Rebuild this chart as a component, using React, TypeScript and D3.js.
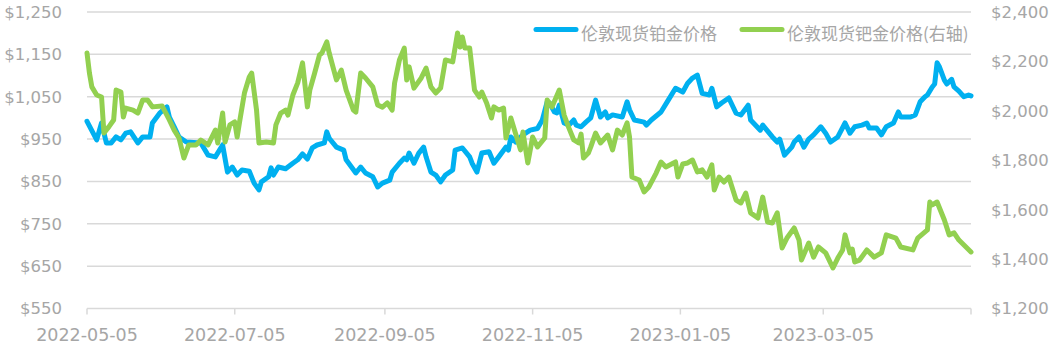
import React from 'react';
import * as d3 from 'd3';

// 伦敦现货铂金价格 (left axis)
const platinumDates = [
  '2022-05-05', '2022-05-09', '2022-05-11', '2022-05-13', '2022-05-15', '2022-05-17', '2022-05-19', '2022-05-21',
  '2022-05-23', '2022-05-26', '2022-05-28', '2022-05-31', '2022-06-01', '2022-06-04', '2022-06-07', '2022-06-08',
  '2022-06-10', '2022-06-12', '2022-06-15', '2022-06-21', '2022-06-24', '2022-06-27', '2022-06-30', '2022-07-02',
  '2022-07-04', '2022-07-06', '2022-07-08', '2022-07-11', '2022-07-13', '2022-07-15', '2022-07-16', '2022-07-19',
  '2022-07-20', '2022-07-21', '2022-07-23', '2022-07-26', '2022-07-29', '2022-07-31', '2022-08-02', '2022-08-04',
  '2022-08-06', '2022-08-08', '2022-08-11', '2022-08-12', '2022-08-13', '2022-08-16', '2022-08-19', '2022-08-20',
  '2022-08-24', '2022-08-26', '2022-08-28', '2022-08-31', '2022-09-02', '2022-09-04', '2022-09-07', '2022-09-08',
  '2022-09-11', '2022-09-13', '2022-09-14', '2022-09-15', '2022-09-17', '2022-09-19', '2022-09-21', '2022-09-22',
  '2022-09-24', '2022-09-26', '2022-09-28', '2022-09-30', '2022-10-03', '2022-10-04', '2022-10-07', '2022-10-10',
  '2022-10-11', '2022-10-13', '2022-10-15', '2022-10-18', '2022-10-20', '2022-10-22', '2022-10-25', '2022-10-26',
  '2022-10-27', '2022-10-29', '2022-11-01', '2022-11-04', '2022-11-07', '2022-11-09', '2022-11-11', '2022-11-12',
  '2022-11-14', '2022-11-15', '2022-11-16', '2022-11-18', '2022-11-20', '2022-11-22', '2022-11-23', '2022-11-25',
  '2022-11-27', '2022-11-29', '2022-12-01', '2022-12-03', '2022-12-05', '2022-12-06', '2022-12-08', '2022-12-12',
  '2022-12-14', '2022-12-15', '2022-12-17', '2022-12-21', '2022-12-22', '2022-12-24', '2022-12-28', '2022-12-31',
  '2023-01-03', '2023-01-06', '2023-01-08', '2023-01-10', '2023-01-12', '2023-01-14', '2023-01-17', '2023-01-18',
  '2023-01-20', '2023-01-22', '2023-01-25', '2023-01-28', '2023-01-30', '2023-02-02', '2023-02-03', '2023-02-07',
  '2023-02-08', '2023-02-12', '2023-02-14', '2023-02-15', '2023-02-17', '2023-02-20', '2023-02-21', '2023-02-23',
  '2023-02-25', '2023-02-27', '2023-03-01', '2023-03-04', '2023-03-06', '2023-03-08', '2023-03-11', '2023-03-14',
  '2023-03-16', '2023-03-18', '2023-03-21', '2023-03-23', '2023-03-24', '2023-03-27', '2023-03-29', '2023-03-31',
  '2023-04-03', '2023-04-05', '2023-04-06', '2023-04-10', '2023-04-12', '2023-04-14', '2023-04-16', '2023-04-17',
  '2023-04-19', '2023-04-20', '2023-04-21', '2023-04-22', '2023-04-24', '2023-04-25', '2023-04-27', '2023-04-28',
  '2023-04-30', '2023-05-02', '2023-05-04', '2023-05-05',
];
const platinumPrices = [
  992, 948, 988, 941, 941, 955, 948, 964, 967, 941, 955, 955, 988, 1011, 1026, 1002,
  979, 955, 943, 941, 912, 908, 936, 872, 884, 865, 877, 874, 846, 830, 849, 861,
  882, 865, 884, 880, 893, 901, 915, 903, 929, 936, 941, 967, 952, 931, 924, 901,
  870, 884, 870, 861, 837, 846, 853, 872, 893, 905, 901, 917, 893, 917, 931, 908,
  872, 865, 849, 865, 877, 924, 929, 908, 893, 872, 917, 920, 893, 908, 931, 924,
  955, 943, 960, 971, 975, 995, 1038, 1035, 1014, 1012, 1030, 988, 983, 995, 983, 979,
  990, 1000, 1042, 1002, 1014, 1000, 1007, 1002, 1038, 1019, 995, 990, 983, 995, 1014, 1042,
  1070, 1061, 1082, 1094, 1101, 1058, 1054, 1070, 1026, 1035, 1047, 1011, 1007, 1030, 995, 971,
  983, 955, 943, 950, 912, 931, 943, 955, 931, 950, 960, 979, 964, 943, 955, 988,
  964, 979, 983, 988, 976, 976, 960, 979, 988, 1014, 1002, 1002, 1007, 1038, 1050, 1054,
  1073, 1080, 1130, 1120, 1089, 1080, 1091, 1073, 1063, 1050, 1054, 1052,
];

// 伦敦现货钯金价格 (right axis)
const palladiumDates = [
  '2022-05-05', '2022-05-06', '2022-05-07', '2022-05-09', '2022-05-11', '2022-05-12', '2022-05-14', '2022-05-16',
  '2022-05-17', '2022-05-19', '2022-05-20', '2022-05-21', '2022-05-24', '2022-05-26', '2022-05-28', '2022-05-30',
  '2022-06-01', '2022-06-05', '2022-06-08', '2022-06-10', '2022-06-12', '2022-06-14', '2022-06-16', '2022-06-19',
  '2022-06-21', '2022-06-24', '2022-06-27', '2022-06-28', '2022-06-30', '2022-07-01', '2022-07-03', '2022-07-05',
  '2022-07-06', '2022-07-07', '2022-07-09', '2022-07-11', '2022-07-12', '2022-07-14', '2022-07-15', '2022-07-18',
  '2022-07-21', '2022-07-22', '2022-07-24', '2022-07-26', '2022-07-27', '2022-07-29', '2022-07-31', '2022-08-02',
  '2022-08-04', '2022-08-05', '2022-08-07', '2022-08-09', '2022-08-10', '2022-08-12', '2022-08-13', '2022-08-16',
  '2022-08-18', '2022-08-20', '2022-08-23', '2022-08-24', '2022-08-26', '2022-08-28', '2022-08-31', '2022-09-02',
  '2022-09-04', '2022-09-06', '2022-09-08', '2022-09-09', '2022-09-11', '2022-09-13', '2022-09-14', '2022-09-15',
  '2022-09-17', '2022-09-20', '2022-09-22', '2022-09-24', '2022-09-26', '2022-09-28', '2022-09-30', '2022-10-03',
  '2022-10-05', '2022-10-06', '2022-10-07', '2022-10-08', '2022-10-10', '2022-10-12', '2022-10-14', '2022-10-15',
  '2022-10-17', '2022-10-19', '2022-10-20', '2022-10-22', '2022-10-24', '2022-10-25', '2022-10-27', '2022-10-31',
  '2022-11-01', '2022-11-03', '2022-11-05', '2022-11-07', '2022-11-10', '2022-11-11', '2022-11-13', '2022-11-16',
  '2022-11-18', '2022-11-20', '2022-11-22', '2022-11-24', '2022-11-25', '2022-11-26', '2022-11-28', '2022-11-29',
  '2022-12-01', '2022-12-03', '2022-12-06', '2022-12-08', '2022-12-10', '2022-12-12', '2022-12-14', '2022-12-15',
  '2022-12-16', '2022-12-19', '2022-12-21', '2022-12-23', '2022-12-26', '2022-12-28', '2022-12-30', '2023-01-03',
  '2023-01-04', '2023-01-06', '2023-01-08', '2023-01-10', '2023-01-12', '2023-01-14', '2023-01-16', '2023-01-18',
  '2023-01-19', '2023-01-21', '2023-01-23', '2023-01-25', '2023-01-28', '2023-01-30', '2023-02-01', '2023-02-03',
  '2023-02-06', '2023-02-08', '2023-02-10', '2023-02-12', '2023-02-14', '2023-02-16', '2023-02-18', '2023-02-21',
  '2023-02-23', '2023-02-24', '2023-02-27', '2023-03-01', '2023-03-03', '2023-03-06', '2023-03-09', '2023-03-11',
  '2023-03-13', '2023-03-14', '2023-03-16', '2023-03-17', '2023-03-18', '2023-03-20', '2023-03-23', '2023-03-26',
  '2023-03-29', '2023-03-31', '2023-04-04', '2023-04-06', '2023-04-11', '2023-04-13', '2023-04-17', '2023-04-18',
  '2023-04-19', '2023-04-21', '2023-04-24', '2023-04-26', '2023-04-28', '2023-04-30', '2023-05-05',
];
const palladiumPrices = [
  2234, 2153, 2097, 2064, 2056, 1910, 1935, 1963, 2084, 2076, 1975, 2011, 2003, 1991, 2044, 2044,
  2016, 2020, 1963, 1922, 1890, 1809, 1862, 1862, 1882, 1862, 1922, 1870, 1991, 1874, 1943, 1955,
  1894, 1955, 2072, 2137, 2153, 2003, 1870, 1874, 1870, 1943, 1991, 2003, 1983, 2064, 2113, 2194,
  2016, 2084, 2153, 2226, 2234, 2279, 2234, 2125, 2165, 2084, 2003, 1995, 2153, 2133, 2097, 2024,
  2015, 2032, 2003, 2113, 2206, 2254, 2125, 2178, 2092, 2133, 2173, 2097, 2072, 2092, 2206, 2198,
  2315, 2258, 2299, 2254, 2254, 2084, 2056, 2076, 2032, 1971, 2016, 2003, 2011, 1890, 1971, 1842,
  1914, 1789, 1894, 1854, 1890, 2044, 2016, 2084, 1983, 1930, 1882, 1870, 1906, 1809, 1829, 1854,
  1910, 1870, 1902, 1842, 1922, 1902, 1951, 1894, 1732, 1720, 1672, 1692, 1748, 1793, 1773, 1793,
  1732, 1785, 1789, 1801, 1753, 1761, 1732, 1781, 1680, 1732, 1712, 1732, 1639, 1627, 1667, 1587,
  1566, 1651, 1550, 1546, 1587, 1445, 1485, 1526, 1477, 1396, 1465, 1408, 1449, 1425, 1364, 1404,
  1437, 1498, 1425, 1440, 1388, 1396, 1437, 1408, 1425, 1498, 1485, 1449, 1437, 1485, 1518, 1631,
  1619, 1631, 1558, 1498, 1506, 1477, 1429,
];

const leftTicks = [550, 650, 750, 850, 950, 1050, 1150, 1250];
const rightTicks = [1200, 1400, 1600, 1800, 2000, 2200, 2400];
const dateTicks = ['2022-05-05', '2022-07-05', '2022-09-05', '2022-11-05', '2023-01-05', '2023-03-05'];
const seriesNames = ['伦敦现货铂金价格', '伦敦现货钯金价格(右轴)'];
const seriesColors = ['#00b0f0', '#92d050'];

const width = 1058;
const height = 352;
const margin = { top: 12, right: 87, bottom: 43.5, left: 87 };
const textColor = '#a6a6a6';
const gridColor = '#d9d9d9';

const parse = d3.timeParse('%Y-%m-%d');

export default function App() {
  const x = d3
    .scaleTime()
    .domain([parse('2022-05-05')!, parse('2023-05-05')!])
    .range([margin.left, width - margin.right]);
  const yLeft = d3.scaleLinear().domain([550, 1250]).range([height - margin.bottom, margin.top]);
  const yRight = d3.scaleLinear().domain([1200, 2400]).range([height - margin.bottom, margin.top]);

  const platinum = platinumDates.map((d, i) => ({ date: parse(d)!, value: platinumPrices[i] }));
  const palladium = palladiumDates.map((d, i) => ({ date: parse(d)!, value: palladiumPrices[i] }));

  const lineLeft = d3
    .line<{ date: Date; value: number }>()
    .x((d) => x(d.date))
    .y((d) => yLeft(d.value));
  const lineRight = d3
    .line<{ date: Date; value: number }>()
    .x((d) => x(d.date))
    .y((d) => yRight(d.value));

  const fmt = d3.format('$,');
  const baseY = height - margin.bottom;
  const axisFont = 'DejaVu Sans, sans-serif';

  return (
    <div style={{ position: 'absolute', left: 0, top: 0 }}>
      <svg width={width} height={height} style={{ display: 'block', background: '#fff' }}>
        {/* grid */}
        {leftTicks.slice(1).map((t) => (
          <line key={t} x1={margin.left} x2={width - margin.right} y1={yLeft(t)} y2={yLeft(t)} stroke={gridColor} strokeWidth={1.5} />
        ))}
        {/* bottom axis */}
        <line x1={margin.left} x2={width - margin.right} y1={baseY} y2={baseY} stroke={gridColor} strokeWidth={1.5} />
        {[...dateTicks.map((d) => x(parse(d)!)), width - margin.right].map((px, i) => (
          <line key={i} x1={px} x2={px} y1={baseY} y2={baseY + 6} stroke={gridColor} strokeWidth={1.5} />
        ))}
        {dateTicks.map((d) => (
          <text key={d} x={x(parse(d)!)} y={341} textAnchor="middle" fill={textColor} fontSize={17.5} fontFamily={axisFont}>
            {d}
          </text>
        ))}
        {/* left axis */}
        {leftTicks.map((t) => (
          <text key={t} x={62} y={yLeft(t)} dy="0.36em" textAnchor="end" fill={textColor} fontSize={16.5} fontFamily={axisFont}>
            {fmt(t)}
          </text>
        ))}
        {/* right axis */}
        {rightTicks.map((t) => (
          <text key={t} x={991} y={yRight(t)} dy="0.36em" textAnchor="start" fill={textColor} fontSize={16.5} fontFamily={axisFont}>
            {fmt(t)}
          </text>
        ))}
        {/* series */}
        <path d={lineLeft(platinum) ?? ''} fill="none" stroke={seriesColors[0]} strokeWidth={5} strokeLinejoin="round" strokeLinecap="round" />
        <path d={lineRight(palladium) ?? ''} fill="none" stroke={seriesColors[1]} strokeWidth={5} strokeLinejoin="round" strokeLinecap="round" />
        {/* legend */}
        {seriesNames.map((name, i) => {
          const lx = i === 0 ? 534 : 740;
          return (
            <g key={name}>
              <line x1={lx + 2} x2={lx + 42} y1={29.5} y2={29.5} stroke={seriesColors[i]} strokeWidth={5} strokeLinecap="round" />
              <text x={lx + 47} y={40} fill={textColor} fontSize={17} fontFamily="Noto Sans CJK SC, sans-serif">
                {name}
              </text>
            </g>
          );
        })}
      </svg>
    </div>
  );
}
